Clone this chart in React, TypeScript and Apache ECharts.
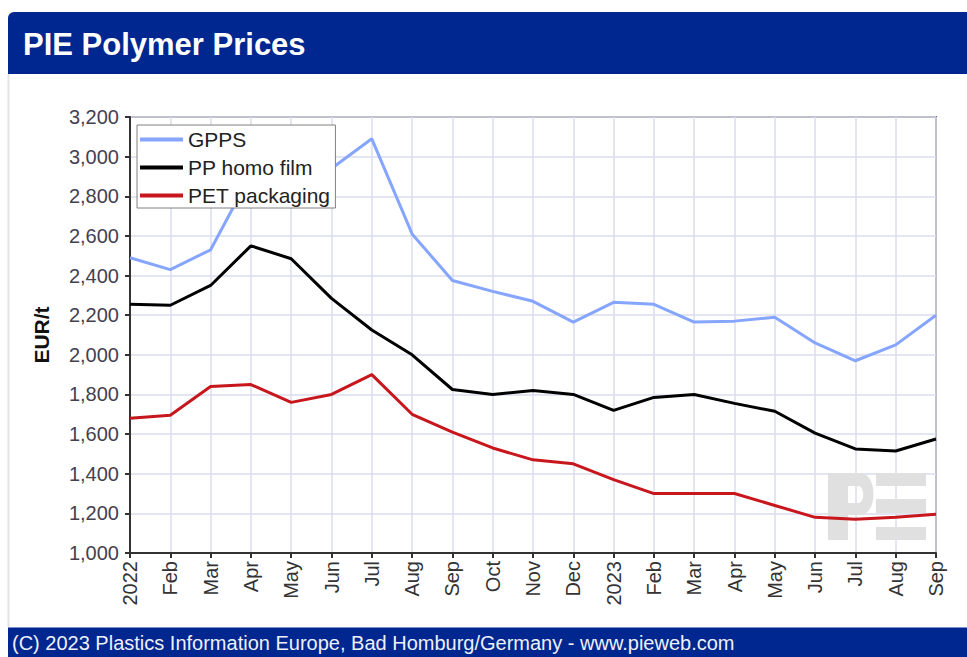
import React, { useEffect, useRef } from "react";
import * as echarts from "echarts";

const months = ["2022","Feb","Mar","Apr","May","Jun","Jul","Aug","Sep","Oct","Nov","Dec","2023","Feb","Mar","Apr","May","Jun","Jul","Aug","Sep"];
const gpps = [2490,2430,2530,2910,2950,2940,3090,2610,2375,2320,2270,2165,2265,2255,2165,2170,2190,2060,1970,2050,2200];
const ppHomo = [2255,2250,2350,2550,2485,2285,2125,2000,1825,1800,1820,1800,1720,1785,1800,1755,1715,1605,1525,1515,1575];
const petPack = [1680,1695,1840,1850,1760,1800,1900,1700,1610,1530,1470,1450,1370,1300,1300,1300,1240,1180,1170,1180,1195];
const seriesNames = ["GPPS","PP homo film","PET packaging"];
const seriesColors = ["#85a5ff","#000000","#c8161d"];
const yMin = 1000, yMax = 3200, yStep = 200;
const title = "PIE Polymer Prices";
const footer = "(C) 2023 Plastics Information Europe, Bad Homburg/Germany - www.pieweb.com";
const yName = "EUR/t";

const FONT = "'Liberation Sans', Arial, sans-serif";
const BLUE = "#00268f";

echarts.graphic.registerShape(
  "pieP",
  echarts.graphic.extendPath("M0 0 H32 C50 0 50 42 32 42 H20 V67 H0 Z M20 13 V30 H30 C37 30 37 13 30 13 Z", {})
);

export default function App() {
  const ref = useRef<HTMLDivElement>(null);
  useEffect(() => {
    const chart = echarts.init(ref.current!, undefined, { renderer: "svg" });
    const values = [gpps, ppHomo, petPack];
    chart.setOption({
      animation: false,
      backgroundColor: "#ffffff",
      textStyle: { fontFamily: FONT },
      graphic: [
        { type: "rect", z: 0, shape: { x: 8, y: 12, width: 959, height: 62, r: [6, 0, 0, 0] }, style: { fill: BLUE } },
        { type: "text", z: 1, x: 23, y: 44, style: { text: title, fill: "#ffffff", font: `bold 31px ${FONT}`, verticalAlign: "middle" } },
        { type: "line", z: 0, shape: { x1: 8.5, y1: 74, x2: 8.5, y2: 627 }, style: { stroke: "#e4e4e4", lineWidth: 2 } },
        { type: "rect", z: 0, shape: { x: 8, y: 627, width: 959, height: 30 }, style: { fill: BLUE } },
        { type: "line", z: 0, shape: { x1: 8, y1: 627.5, x2: 967, y2: 627.5 }, style: { stroke: "#7c8fcc", lineWidth: 1 } },
        { type: "text", z: 1, x: 12, y: 643, style: { text: footer, fill: "#eef0f8", font: `20px ${FONT}`, verticalAlign: "middle" } },
        { type: "pieP", z: 1, x: 828, y: 473, style: { fill: "#e0e0e0" } },
        { type: "rect", z: 1, shape: { x: 876, y: 473, width: 50, height: 13 }, style: { fill: "#e0e0e0" } },
        { type: "rect", z: 1, shape: { x: 876, y: 499, width: 50, height: 14 }, style: { fill: "#e0e0e0" } },
        { type: "rect", z: 1, shape: { x: 876, y: 527, width: 50, height: 13 }, style: { fill: "#e0e0e0" } },
      ],
      grid: { left: 130, top: 117, width: 806, height: 436, show: true, borderColor: "#6e6e6e", borderWidth: 2, backgroundColor: "transparent" },
      legend: {
        orient: "vertical",
        left: 137,
        top: 125,
        padding: [4, 5, 2, 3],
        itemGap: 7,
        itemWidth: 43,
        itemHeight: 4,
        itemTextGap: 10,
        icon: "rect",
        backgroundColor: "#ffffff",
        borderColor: "#808080",
        borderWidth: 1,
        textStyle: { fontSize: 21, color: "#222", fontFamily: FONT },
        data: seriesNames,
      },
      xAxis: {
        type: "category",
        data: months,
        boundaryGap: false,
        axisLine: { lineStyle: { color: "#333", width: 2 } },
        axisTick: { show: true, length: 5, lineStyle: { color: "#333", width: 2 } },
        axisLabel: { rotate: 90, fontSize: 20, color: "#333", margin: 8, interval: 0, fontFamily: FONT },
        splitLine: { show: true, lineStyle: { color: "#dadcef", width: 1.5 } },
      },
      yAxis: {
        type: "value",
        min: yMin,
        max: yMax,
        interval: yStep,
        name: yName,
        nameLocation: "middle",
        nameGap: 78,
        nameRotate: 90,
        nameTextStyle: { fontSize: 21, fontWeight: "bold", color: "#111", fontFamily: FONT },
        axisLine: { show: true, lineStyle: { color: "#333", width: 2 } },
        axisTick: { show: true, length: 5, lineStyle: { color: "#333", width: 2 } },
        axisLabel: {
          fontSize: 20,
          color: "#444050",
          margin: 11,
          fontFamily: FONT,
          formatter: (v: number) => v.toLocaleString("en-US"),
        },
        splitLine: { show: true, lineStyle: { color: "#dadcef", width: 1.5 } },
      },
      series: seriesNames.map((name, i) => ({
        name,
        type: "line",
        data: values[i],
        z: 3,
        showSymbol: false,
        symbol: "none",
        lineStyle: { color: seriesColors[i], width: 3 },
        itemStyle: { color: seriesColors[i] },
      })),
    });
    return () => chart.dispose();
  }, []);
  return <div ref={ref} style={{ position: "fixed", left: 0, top: 0, width: 967, height: 657 }} />;
}
